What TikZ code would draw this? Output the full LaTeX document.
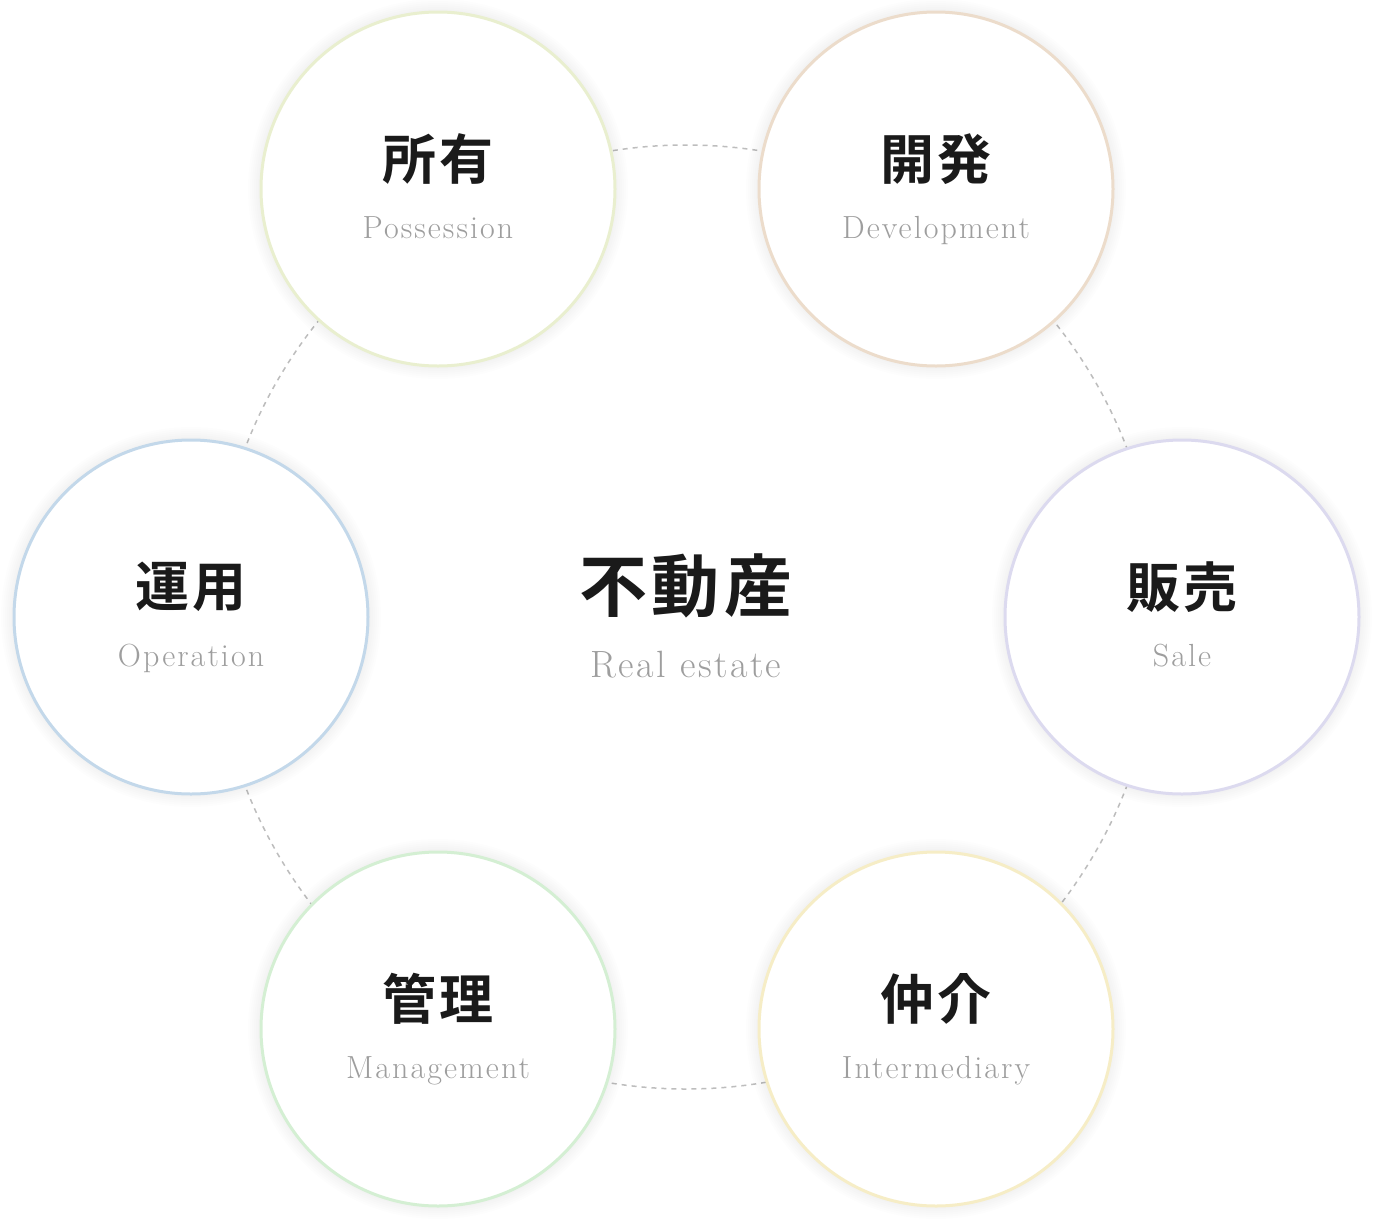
\documentclass[tikz,border=0pt]{standalone}
\usepackage{fontspec}
\newfontfamily\jpfont[LetterSpace=6]{Noto Sans CJK JP Bold}
\newfontfamily\enfont[LetterSpace=6.5]{Latin Modern Roman}
\definecolor{jpcol}{HTML}{1A1A1A}
\definecolor{encol}{HTML}{9E9E9E}
\definecolor{dashcol}{HTML}{BDBDBD}
\definecolor{cPos}{HTML}{E9EFCF}
\definecolor{cDev}{HTML}{ECDCCB}
\definecolor{cOpe}{HTML}{C3D8EA}
\definecolor{cSal}{HTML}{DCDAEF}
\definecolor{cMan}{HTML}{D4EFD3}
\definecolor{cInt}{HTML}{F6EDC6}
\newcommand\mystation[6]{%
  \foreach \k in {2,4,...,12}{\fill[black,opacity=0.007] (#2,#3) circle[radius={(178+\k)*1pt}];}
  \node[ring=#4] (#1) at (#2,#3) {};
  \node[jp] (#1-jp) at (#2,#3-30) {#5};
  \node[en] (#1-en) at (#2,#3+49) {#6};
}
\begin{document}
\begin{tikzpicture}[x=1pt,y=-1pt,
  ring/.style={circle, draw=#1, line width=3pt, fill=white, minimum size=354pt, inner sep=0pt},
  jp/.style={font=\jpfont\fontsize{54}{62}\selectfont, text=jpcol, inner sep=0pt},
  en/.style={font=\enfont\fontsize{32}{38}\selectfont, text=encol, anchor=base, inner sep=0pt},
  bigjp/.style={font=\jpfont\fontsize{68}{78}\selectfont, text=jpcol, inner sep=0pt},
  bigen/.style={font=\enfont\fontsize{38}{44}\selectfont, text=encol, anchor=base, inner sep=0pt}]
\useasboundingbox[fill=white] (0,0) rectangle (1374,1224);
\coordinate (ctr) at (686,617);
\draw[dashcol, line width=1.5pt, dash pattern=on 5pt off 5pt] (ctr) circle[radius=472pt];
\mystation{pos}{438}{189}{cPos}{所有}{Possession}
\mystation{dev}{936}{189}{cDev}{開発}{Development}
\mystation{ope}{191}{617}{cOpe}{運用}{Operation}
\mystation{sal}{1182}{617}{cSal}{販売}{Sale}
\mystation{man}{438}{1029}{cMan}{管理}{Management}
\mystation{int}{936}{1029}{cInt}{仲介}{Intermediary}
\node[bigjp] (core-jp) at (686,586) {不動産};
\node[bigen] (core-en) at (686,677) {Real estate};
\end{tikzpicture}
\end{document}
